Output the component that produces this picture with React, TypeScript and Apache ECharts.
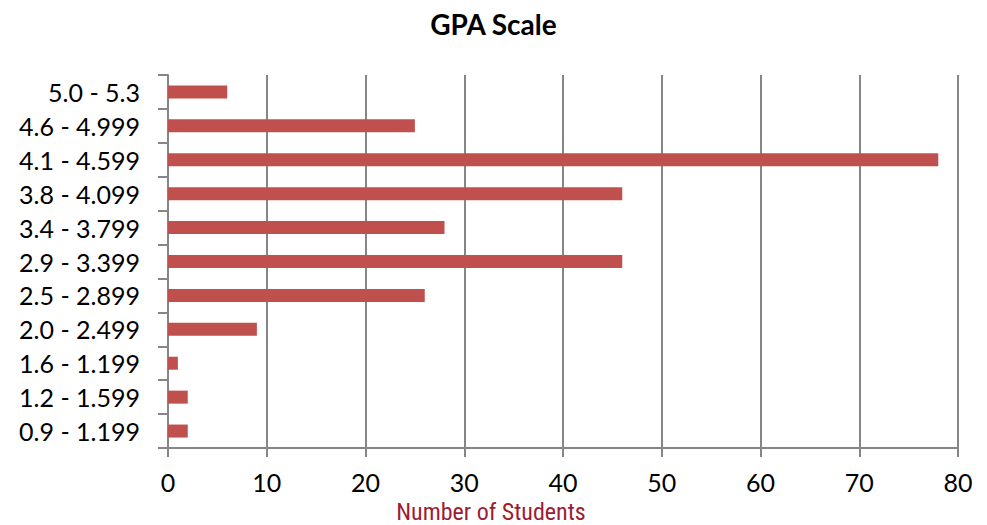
import React, { useEffect, useRef } from "react";
import * as echarts from "echarts";

const categories = [
  "0.9 - 1.199",
  "1.2 - 1.599",
  "1.6 - 1.199",
  "2.0 - 2.499",
  "2.5 - 2.899",
  "2.9 - 3.399",
  "3.4 - 3.799",
  "3.8 - 4.099",
  "4.1 - 4.599",
  "4.6 - 4.999",
  "5.0 - 5.3",
];
const students = [2, 2, 1, 9, 26, 46, 28, 46, 78, 25, 6];

const FONT = "Lato, 'Open Sans', 'Noto Sans', sans-serif";

export default function App() {
  const ref = useRef<HTMLDivElement>(null);
  useEffect(() => {
    if (!ref.current) return;
    const chart = echarts.init(ref.current, null, { renderer: "svg" });
    chart.setOption({
      animation: false,
      title: {
        text: "GPA Scale",
        left: "center",
        top: -3,
        textStyle: { fontFamily: FONT, fontSize: 28, fontWeight: "bold", color: "#000" },
      },
      grid: {
        left: 160,
        right: 21,
        top: 67,
        bottom: 77,
        containLabel: false,
        outerBoundsMode: "none",
      },
      xAxis: {
        type: "value",
        min: 0,
        max: 80,
        interval: 10,
        name: "Number of Students",
        nameLocation: "middle",
        nameGap: 52,
        nameTextStyle: {
          fontFamily: "'Liberation Sans Narrow', 'Arial Narrow', 'Roboto Condensed', sans-serif",
          fontSize: 24,
          color: "#9E1B32",
          padding: [0, 144, 0, 0],
        },
        axisLine: { show: true, lineStyle: { color: "#868686", width: 2 } },
        axisTick: { show: true, length: 9, lineStyle: { color: "#868686", width: 2 } },
        axisLabel: { fontFamily: FONT, fontSize: 25, color: "#000", margin: 21 },
        splitLine: { show: true, lineStyle: { color: "#868686", width: 2 } },
      },
      yAxis: {
        type: "category",
        data: categories,
        axisLine: { show: true, lineStyle: { color: "#868686", width: 2 } },
        axisTick: { show: true, length: 10, lineStyle: { color: "#868686", width: 2 } },
        axisLabel: { fontFamily: FONT, fontSize: 25, color: "#000", margin: 28 },
        splitLine: { show: false },
      },
      series: [
        {
          type: "bar",
          data: students,
          barWidth: 13,
          itemStyle: { color: "#C0504D" },
        },
      ],
    });
    return () => chart.dispose();
  }, []);
  return <div ref={ref} style={{ width: 971, height: 517 }} />;
}
